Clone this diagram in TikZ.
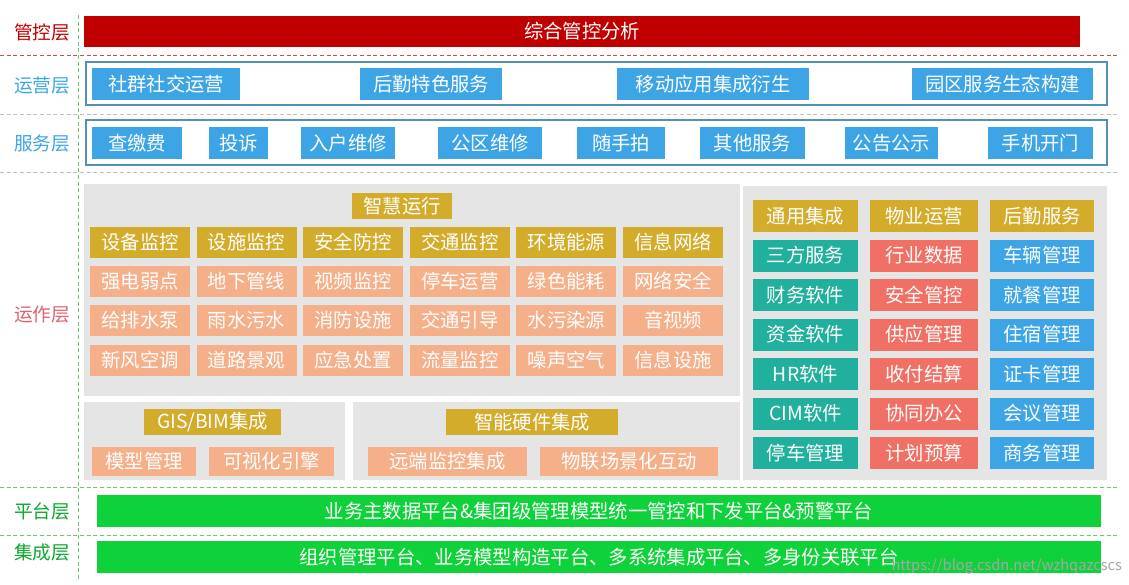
\documentclass[tikz,border=0pt]{standalone}
\usepackage{fontspec}
\setmainfont{Noto Sans CJK SC}
\begin{document}
\begin{tikzpicture}[x=0.75pt,y=-0.75pt,
  every node/.style={inner sep=0pt,outer sep=0pt,font=\fontsize{14.5}{16}\selectfont,text=white},
  bx/.style={fill=#1,draw=none},
  lbl/.style={text=#1,font=\fontsize{14}{16}\selectfont},
  sep/.style={draw=#1,densely dashed,line width=0.4pt}]
\definecolor{cblue}{HTML}{3DA5E6}
\definecolor{cyel}{HTML}{D4AC2B}
\definecolor{csal}{HTML}{F5B08A}
\definecolor{cred}{HTML}{F07066}
\definecolor{cteal}{HTML}{22B09E}
\definecolor{cgreen}{HTML}{0FD13A}
\definecolor{cgrey}{HTML}{E6E5E6}
\definecolor{cdark}{HTML}{C00000}
\definecolor{cpink}{HTML}{E06070}
\definecolor{lgreen}{HTML}{66CC66}
\useasboundingbox (0,0) rectangle (1129,585);
\newcommand{\bb}[6]{\fill[#6] (#1,#2) rectangle (#3,#4); \node (#5) at ({(#1+#3)/2},{(#2+#4)/2}) {};}
\def\B#1#2#3#4#5#6{\fill[#6] (#1,#2) rectangle (#3,#4); \node at ({(#1+#3)/2},{(#2+#4)/2}) {#5};}
% separators
\draw[sep=lgreen] (78,15) -- (78,580);
\draw[sep=cdark!70] (0,55) -- (1120,55);
\draw[sep=gray!50] (0,114) -- (1120,114);
\draw[sep=gray!50] (0,172) -- (1120,172);
\draw[sep=lgreen] (0,487) -- (1120,487);
\draw[sep=lgreen] (0,535) -- (1120,535);
% labels
\node[lbl=cdark] (l1) at (42,32) {管控层};
\node[lbl=cblue] (l2) at (42,85) {运营层};
\node[lbl=cblue] (l3) at (42,143) {服务层};
\node[lbl=cpink] (l4) at (42,315) {运作层};
\node[lbl=cgreen!80!black] (l5) at (42,511) {平台层};
\node[lbl=cgreen!80!black] (l6) at (42,552) {集成层};
% top bar
\B{84}{16}{1080}{47}{综合管控分析}{cdark}
% row boxes
\draw[cblue!70!black!80,line width=1pt] (86,62) rectangle (1107,105);
\draw[cblue!70!black!80,line width=1pt] (86,120) rectangle (1107,165);
\B{92}{68}{240}{100}{社群社交运营}{cblue}
\B{360}{68}{502}{100}{后勤特色服务}{cblue}
\B{617}{68}{809}{100}{移动应用集成衍生}{cblue}
\B{912}{68}{1093}{100}{园区服务生态构建}{cblue}
\B{92}{127}{182}{159}{查缴费}{cblue}
\B{209}{127}{268}{159}{投诉}{cblue}
\B{301}{127}{395}{159}{入户维修}{cblue}
\B{438}{127}{542}{159}{公区维修}{cblue}
\B{577}{127}{665}{159}{随手拍}{cblue}
\B{700}{127}{805}{159}{其他服务}{cblue}
\B{845}{127}{938}{159}{公告公示}{cblue}
\B{988}{127}{1093}{159}{手机开门}{cblue}
% grey panels
\fill[cgrey] (84,184) rectangle (740,396);
\fill[cgrey] (84,402) rectangle (345,480);
\fill[cgrey] (353,402) rectangle (740,480);
\fill[cgrey] (743,186) rectangle (1107,480);
\B{352}{193}{452}{219}{智慧运行}{cyel}
\foreach \t [count=\i from 0] in {设备监控,设施监控,安全防控,交通监控,环境能源,信息网络}{
  \pgfmathsetmacro\xa{90+\i*106.6}\pgfmathsetmacro\xb{\xa+100}
  \B{\xa}{227}{\xb}{258}{\t}{cyel}}
\foreach \t [count=\i from 0] in {强电弱点,地下管线,视频监控,停车运营,绿色能耗,网络安全}{
  \pgfmathsetmacro\xa{90+\i*106.6}\pgfmathsetmacro\xb{\xa+100}
  \B{\xa}{266}{\xb}{297}{\t}{csal}}
\foreach \t [count=\i from 0] in {给排水泵,雨水污水,消防设施,交通引导,水污染源,音视频}{
  \pgfmathsetmacro\xa{90+\i*106.6}\pgfmathsetmacro\xb{\xa+100}
  \B{\xa}{305}{\xb}{336}{\t}{csal}}
\foreach \t [count=\i from 0] in {新风空调,道路景观,应急处置,流量监控,噪声空气,信息设施}{
  \pgfmathsetmacro\xa{90+\i*106.6}\pgfmathsetmacro\xb{\xa+100}
  \B{\xa}{345}{\xb}{376}{\t}{csal}}
\B{144}{409}{281}{435}{GIS/BIM集成}{cyel}
\B{92}{447}{196}{476}{模型管理}{csal}
\B{209}{447}{334}{476}{可视化引擎}{csal}
\B{446}{409}{618}{435}{智能硬件集成}{cyel}
\B{368}{447}{527}{476}{远端监控集成}{csal}
\B{540}{447}{718}{476}{物联场景化互动}{csal}
% right panel grid
\foreach \a/\b/\c [count=\r from 0] in {通用集成/物业运营/后勤服务,三方服务/行业数据/车辆管理,财务软件/安全管控/就餐管理,资金软件/供应管理/住宿管理,HR软件/收付结算/证卡管理,CIM软件/协同办公/会议管理,停车管理/计划预算/商务管理}{
  \pgfmathsetmacro\ya{200+\r*39.5}\pgfmathsetmacro\yb{\ya+32}
  \ifnum\r=0
    \B{753}{\ya}{858}{\yb}{\a}{cyel}\B{870}{\ya}{978}{\yb}{\b}{cyel}\B{990}{\ya}{1094}{\yb}{\c}{cyel}
  \else
    \B{753}{\ya}{858}{\yb}{\a}{cteal}\B{870}{\ya}{978}{\yb}{\b}{cred}\B{990}{\ya}{1094}{\yb}{\c}{cblue}
  \fi}
% green bars
\B{97}{495}{1101}{527}{业务主数据平台\&集团级管理模型统一管控和下发平台\&预警平台}{cgreen}
\B{97}{541}{1101}{573}{组织管理平台、业务模型构造平台、多系统集成平台、多身份关联平台}{cgreen}
\node[text=gray!70,font=\fontsize{11}{12}\selectfont,anchor=east] (wm) at (1122,566) {https://blog.csdn.net/wzhqazcscs};
\end{tikzpicture}
\end{document}
